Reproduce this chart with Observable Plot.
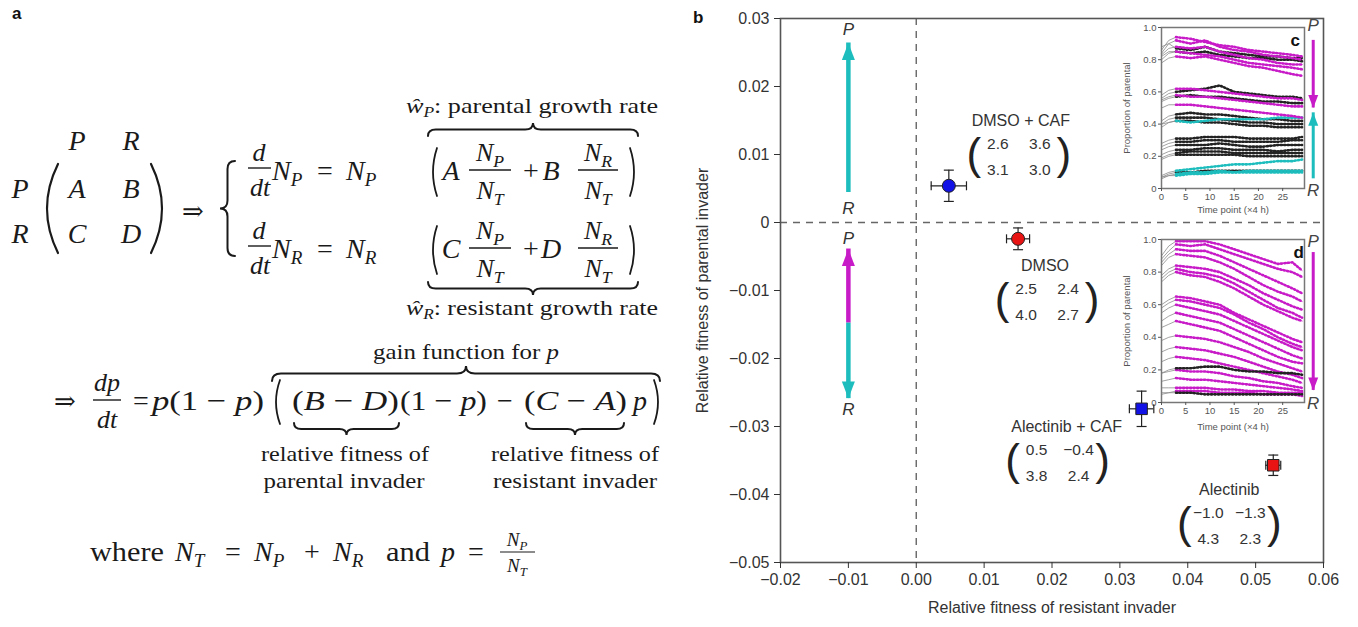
<!DOCTYPE html>
<html><head><meta charset="utf-8">
<script src="https://cdn.jsdelivr.net/npm/d3@7"></script>
<script src="https://cdn.jsdelivr.net/npm/@observablehq/plot@0.6"></script>
<style>
body{margin:0;background:#fff;}
#root{position:relative;width:1358px;height:627px;overflow:hidden;background:#fff;font-family:"Liberation Sans",Arial,sans-serif;}
</style></head><body><div id="root"></div>
<script>
// ---------------- DATA ----------------
const treatments = ["DMSO + CAF", "DMSO", "Alectinib + CAF", "Alectinib"];
const resistantFitness = [0.0048, 0.0150, 0.0332, 0.0526];
const resistantErr = [0.0026, 0.0017, 0.0018, 0.0011];
const parentalFitness = [0.0054, -0.0024, -0.0274, -0.0357];
const parentalErr = [0.0023, 0.0016, 0.0026, 0.0015];
const withCAF = [true, false, true, false];
const withAlectinib = [false, false, true, true];
const gameMatrices = [["2.6","3.6","3.1","3.0"],["2.5","2.4","4.0","2.7"],["0.5","−0.4","3.8","2.4"],["−1.0","−1.3","4.3","2.3"]];
const xTicks = [-0.02, -0.01, 0, 0.01, 0.02, 0.03, 0.04, 0.05, 0.06];
const yTicks = [-0.05, -0.04, -0.03, -0.02, -0.01, 0, 0.01, 0.02, 0.03];
const xLabel = "Relative fitness of resistant invader";
const yLabel = "Relative fitness of parental invader";
// direction arrows (x = -0.01)
const arrowX = -0.01;
const upperArrow = {from: 0.0044, to: 0.0264};
const lowerArrow = {mid: -0.0148, up: -0.0039, down: -0.0259};

// inset time points (x4 h)
const TIMES = [0, 1.5, 3, 6, 9, 12, 15, 18, 21, 24, 27, 29];
const insetTicksX = [0, 5, 10, 15, 20, 25];
const insetTicksY = [0, 0.2, 0.4, 0.6, 0.8, 1.0];
// inset c (DMSO + CAF)
const cMagenta = [
 [0.86,0.92,0.94,0.93,0.91,0.89,0.88,0.86,0.85,0.84,0.83,0.82],
 [0.84,0.90,0.92,0.90,0.92,0.88,0.86,0.85,0.83,0.82,0.81,0.80],
 [0.83,0.87,0.88,0.87,0.88,0.85,0.83,0.81,0.80,0.78,0.77,0.77],
 [0.80,0.84,0.85,0.84,0.83,0.82,0.80,0.78,0.77,0.76,0.75,0.74],
 [0.78,0.81,0.82,0.81,0.82,0.80,0.78,0.76,0.75,0.73,0.71,0.70],
 [0.58,0.61,0.62,0.62,0.61,0.60,0.59,0.58,0.57,0.56,0.56,0.55],
 [0.55,0.57,0.58,0.57,0.57,0.56,0.55,0.54,0.53,0.52,0.51,0.51],
 [0.50,0.52,0.52,0.52,0.51,0.50,0.49,0.48,0.47,0.46,0.45,0.44]
];
const cBlack = [
 [0.88,0.90,0.87,0.86,0.88,0.85,0.84,0.83,0.82,0.82,0.81,0.81],
 [0.82,0.85,0.85,0.84,0.85,0.83,0.82,0.81,0.81,0.80,0.80,0.79],
 [0.56,0.59,0.60,0.61,0.62,0.64,0.60,0.59,0.58,0.57,0.57,0.56],
 [0.54,0.56,0.57,0.58,0.57,0.57,0.56,0.55,0.54,0.54,0.53,0.53],
 [0.42,0.45,0.46,0.47,0.46,0.46,0.45,0.44,0.43,0.43,0.42,0.42],
 [0.40,0.43,0.44,0.44,0.44,0.43,0.42,0.41,0.41,0.40,0.40,0.40],
 [0.38,0.41,0.42,0.42,0.41,0.41,0.40,0.39,0.39,0.38,0.38,0.38],
 [0.28,0.30,0.31,0.31,0.32,0.32,0.32,0.31,0.31,0.31,0.31,0.32],
 [0.26,0.28,0.29,0.29,0.30,0.30,0.29,0.29,0.29,0.29,0.30,0.30],
 [0.24,0.26,0.27,0.27,0.27,0.28,0.27,0.26,0.26,0.27,0.27,0.27],
 [0.21,0.23,0.24,0.24,0.25,0.25,0.24,0.24,0.24,0.23,0.24,0.24],
 [0.19,0.21,0.22,0.23,0.23,0.23,0.22,0.22,0.22,0.22,0.22,0.22],
 [0.18,0.20,0.21,0.21,0.21,0.21,0.21,0.20,0.20,0.20,0.20,0.20],
 [0.07,0.09,0.10,0.10,0.11,0.11,0.11,0.11,0.11,0.11,0.11,0.11]
];
const cTeal = [
 [0.40,0.41,0.42,0.41,0.42,0.43,0.43,0.43,0.43,0.44,0.44,0.44],
 [0.08,0.10,0.11,0.12,0.13,0.14,0.15,0.15,0.16,0.17,0.17,0.18],
 [0.07,0.08,0.09,0.10,0.10,0.11,0.10,0.11,0.11,0.11,0.11,0.11],
 [0.06,0.08,0.08,0.09,0.09,0.10,0.10,0.10,0.10,0.10,0.10,0.10]
];
// inset d (Alectinib)
const dMagenta = [
 [0.90,0.96,0.99,0.99,0.99,0.97,0.94,0.91,0.88,0.85,0.86,0.81],
 [0.88,0.93,0.97,0.96,0.97,0.94,0.91,0.88,0.85,0.82,0.80,0.77],
 [0.86,0.91,0.94,0.93,0.93,0.90,0.86,0.82,0.78,0.74,0.70,0.67],
 [0.84,0.89,0.91,0.90,0.89,0.86,0.82,0.77,0.72,0.68,0.65,0.62],
 [0.78,0.82,0.84,0.83,0.82,0.80,0.76,0.72,0.67,0.63,0.59,0.57],
 [0.76,0.80,0.82,0.80,0.79,0.77,0.73,0.68,0.63,0.58,0.55,0.52],
 [0.74,0.78,0.80,0.78,0.77,0.74,0.70,0.65,0.60,0.56,0.52,0.50],
 [0.60,0.63,0.65,0.64,0.62,0.60,0.55,0.51,0.47,0.43,0.39,0.37],
 [0.58,0.61,0.63,0.62,0.60,0.58,0.54,0.49,0.45,0.40,0.36,0.34],
 [0.55,0.58,0.60,0.58,0.56,0.54,0.50,0.46,0.42,0.38,0.34,0.32],
 [0.50,0.53,0.55,0.53,0.51,0.49,0.45,0.41,0.37,0.33,0.29,0.27],
 [0.46,0.48,0.50,0.48,0.46,0.44,0.40,0.36,0.32,0.28,0.25,0.24],
 [0.38,0.40,0.41,0.40,0.39,0.37,0.34,0.31,0.27,0.24,0.21,0.19],
 [0.31,0.33,0.34,0.33,0.32,0.30,0.28,0.25,0.22,0.19,0.17,0.15],
 [0.25,0.27,0.28,0.27,0.26,0.24,0.22,0.20,0.18,0.16,0.14,0.12],
 [0.18,0.19,0.20,0.19,0.19,0.18,0.16,0.15,0.13,0.12,0.10,0.09],
 [0.13,0.14,0.15,0.14,0.14,0.13,0.12,0.11,0.10,0.09,0.08,0.07],
 [0.09,0.09,0.09,0.09,0.09,0.08,0.08,0.07,0.07,0.06,0.06,0.06],
 [0.06,0.06,0.07,0.07,0.07,0.06,0.06,0.06,0.05,0.05,0.05,0.04]
];
const dBlack = [
 [0.18,0.20,0.21,0.21,0.22,0.22,0.20,0.19,0.19,0.18,0.18,0.17],
 [0.05,0.06,0.06,0.06,0.05,0.05,0.05,0.05,0.05,0.05,0.05,0.05]
];

// ---------------- STYLE ----------------
const MAGENTA = "#c81bc8", TEAL = "#1dbdbd", BLUE = "#1212e6", RED = "#e81414";
const root = document.getElementById("root");
function place(el, left, top){ el.style.position="absolute"; el.style.left=left+"px"; el.style.top=top+"px"; root.appendChild(el); return el; }
function panelLetter(s, left, top){ const d=document.createElement("div"); d.textContent=s; d.style.font="bold 17px 'Liberation Sans',Arial,sans-serif"; d.style.color="#111"; place(d,left,top); }

// ---------------- PANEL A (equations) ----------------
const svgA = d3.create("svg").attr("width",680).attr("height",627)
  .style("font-family","'Liberation Serif','DejaVu Serif',serif").attr("fill","#1a1a1a");
function T(x,y,s,o={}){ const t=svgA.append("text").attr("x",x).attr("y",y).attr("font-size",o.size||28).attr("text-anchor",o.a||"middle");
  if(Array.isArray(s)){ for(const [str,it,extra] of s){ const sp=t.append("tspan").text(str); if(it) sp.attr("font-style","italic"); if(extra){ for(const k in extra) sp.attr(k,extra[k]); } } } else t.text(s);
  if(o.it) t.attr("font-style","italic"); if(o.len) t.attr("textLength",o.len).attr("lengthAdjust","spacingAndGlyphs"); return t; }
function NS(x,y,sub,o={}){ const size=o.size||28; const t=svgA.append("text").attr("x",x).attr("y",y).attr("font-size",size).attr("font-style","italic").attr("text-anchor",o.a||"start");
  t.append("tspan").text("N"); t.append("tspan").attr("font-size",size*0.68).attr("dy",size*0.22).text(sub); return t; }
function L(x1,x2,y,w=1.4){ svgA.append("line").attr("x1",x1).attr("x2",x2).attr("y1",y).attr("y2",y).attr("stroke","#1a1a1a").attr("stroke-width",w); }
function P(d,w=1.8){ svgA.append("path").attr("d",d).attr("fill","none").attr("stroke","#1a1a1a").attr("stroke-width",w).attr("stroke-linecap","round"); }
function hBrace(x1,x2,yTip,h,up){ const s=up?1:-1, yE=yTip+s*h, yM=yTip+s*h/2, m=(x1+x2)/2, r=Math.min(h*0.6,9);
  P(`M${x1},${yE} Q${x1},${yM} ${x1+r},${yM} L${m-r},${yM} Q${m},${yM} ${m},${yTip} Q${m},${yM} ${m+r},${yM} L${x2-r},${yM} Q${x2},${yM} ${x2},${yE}`,2); }
function vBrace(xTip,y1,y2,w){ const xE=xTip+w, xM=xTip+w/2, m=(y1+y2)/2, r=8;
  P(`M${xE},${y1} Q${xM},${y1} ${xM},${y1+r} L${xM},${m-r} Q${xM},${m} ${xTip},${m} Q${xM},${m} ${xM},${m+r} L${xM},${y2-r} Q${xM},${y2} ${xE},${y2}`,2); }
function bigParen(x,y1,y2,left){ const k=left?-8:8; P(`M${x},${y1} Q${x+k},${(y1+y2)/2} ${x},${y2}`,1.8); }

// matrix
T(77,150,"P",{it:1}); T(131,150,"R",{it:1});
T(20,198,"P",{it:1}); T(20,243,"R",{it:1});
T(77,198,"A",{it:1}); T(131,198,"B",{it:1}); T(77,243,"C",{it:1}); T(131,243,"D",{it:1});
P("M58,164 Q36,208.5 58,253",2.2); P("M151,164 Q173,208.5 151,253",2.2);
T(193,220,"⇒",{size:26});
vBrace(220,161,256,15);
for(const r of [0,1]){
  const o=r*78, sub=r?"R":"P";
  T(259,161+o,"d",{it:1,size:26}); L(248,271,168+o); T(260,196+o,"dt",{it:1,size:26});
  NS(272,180+o,sub); T(325,180+o,"="); NS(346,180+o,sub);
  bigParen(437,148+o,196+o,true);
  T(451,180+o,r?"C":"A",{it:1});
  NS(490,161+o,"P",{a:"middle",size:26}); L(469,511,170+o); NS(490,199+o,"T",{a:"middle",size:26});
  T(531,180+o,"+");
  T(551,180+o,r?"D":"B",{it:1});
  NS(598,161+o,"R",{a:"middle",size:26}); L(578,618,170+o); NS(598,199+o,"T",{a:"middle",size:26});
  bigParen(630,148+o,196+o,false);
}
hBrace(428,638,123,13,true);
T(406,113,[["ŵ",1],["P",1,{"font-size":14,"dy":4}],[": parental growth rate",0,{"dy":-4}]],{size:21,a:"start",len:252});
hBrace(428,638,295,13,false);
T(406,315,[["ŵ",1],["R",1,{"font-size":14,"dy":4}],[": resistant growth rate",0,{"dy":-4}]],{size:21,a:"start",len:252});
// gain function
T(373,359,[["gain function for ",0],["p",1]],{size:21,a:"start",len:186});
hBrace(272,660,366,15,true);
T(65,410,"⇒",{size:26});
T(107,391,"dp",{it:1,size:26}); L(93,121,400); T(107,428,"dt",{it:1,size:26});
T(141,410,"=");
T(152,410,[["p",1],["(1 − ",0],["p",1],[")",0]],{a:"start",len:112});
bigParen(280,380,424,true);
T(292,410,[["(",0],["B",1],[" − ",0],["D",1],[")",0]],{a:"start",len:107});
T(400,410,[["(1 − ",0],["p",1],[")",0]],{a:"start",len:87});
T(505,410,"−");
T(524,410,[["(",0],["C",1],[" − ",0],["A",1],[")",0]],{a:"start",len:103});
T(640,410,"p",{it:1});
bigParen(654,380,424,false);
hBrace(294,399,435,12,false);
hBrace(526,624,435,12,false);
T(345,461,"relative fitness of",{size:21,len:168});
T(344,488,"parental invader",{size:21,len:161});
T(575,461,"relative fitness of",{size:21,len:168});
T(575,488,"resistant invader",{size:21,len:164});
// where line
T(90,561,"where",{a:"start",len:74});
NS(175,561,"T"); T(233,561,"="); NS(254,561,"P"); T(312,561,"+"); NS(333,561,"R");
T(386,561,"and",{a:"start",len:44}); T(448,561,"p",{it:1}); T(476,561,"=");
NS(517,546,"P",{a:"middle",size:19}); L(500,535,552,1.1); NS(517,572,"T",{a:"middle",size:19});
place(svgA.node(),0,0);
panelLetter("a",12,4);

// ---------------- INSETS ----------------
const headUp = (w,h)=>({draw(ctx){ctx.moveTo(0,0);ctx.lineTo(-w,h);ctx.lineTo(w,h);ctx.closePath();}});
const headDown = (w,h)=>({draw(ctx){ctx.moveTo(0,0);ctx.lineTo(-w,-h);ctx.lineTo(w,-h);ctx.closePath();}});
function seriesRows(groups){ const rows=[]; groups.forEach(([arr,color,name])=>arr.forEach((vals,k)=>vals.forEach((v,j)=>rows.push({id:name+k,t:TIMES[j],v,color,j})))); return rows; }
const insetFmt = d => d===0 ? "0" : d.toFixed(1);
function inset(groups, letter, arrows, pr){
  const rows = seriesRows(groups);
  const gray = rows.filter(d=>d.j<=2), col = rows.filter(d=>d.j>=2);
  const axisOpts = {tickSize:3, tickPadding:2, fontSize:9.5, color:"#555"};
  return Plot.plot({
    width:215, height:pr.height, marginLeft:51, marginRight:21, marginTop:9, marginBottom:pr.mb,
    x:{domain:[0,29.5]}, y:{domain:[0,1]}, color:{type:"identity"},
    style:{fontFamily:"'Liberation Sans',Arial,sans-serif", fontSize:"9.5px", color:"#555", background:"transparent", overflow:"visible"},
    marks:[
      Plot.frame({fill:"white", stroke:"none"}),
      Plot.line(gray,{x:"t",y:"v",z:"id",stroke:"#8a8a8a",strokeWidth:0.8}),
      Plot.line(col,{x:"t",y:"v",z:"id",stroke:"color",strokeWidth:1}),
      Plot.line(col,{x:"t",y:"v",z:"id",stroke:"color",strokeWidth:2.6,strokeDasharray:"1.2,2.3"}),
      Plot.frame({stroke:"#777",strokeWidth:1.5}),
      Plot.axisX({...axisOpts, ticks:insetTicksX, label:"Time point (×4 h)", labelAnchor:"center", labelOffset:pr.xlo, labelArrow:"none"}),
      Plot.axisY({...axisOpts, ticks:insetTicksY, tickFormat:insetFmt, label:"Proportion of parental", labelAnchor:"center", labelOffset:38, labelArrow:"none"}),
      ...arrows.flatMap(a=>[
        Plot.ruleX([a],{x:"x",y1:"from",y2:"to",stroke:a.color,strokeWidth:3}),
        Plot.dot([a],{x:"x",y:"to",symbol:a.to>a.from?headUp(5,13):headDown(5,13),fill:a.color,stroke:"none",r:4})
      ]),
      Plot.text([pr.labelX],{x:d=>d,y:pr.pY,text:()=>"P",fontStyle:"italic",fontSize:17,fill:"#444"}),
      Plot.text([pr.labelX],{x:d=>d,y:pr.rY,text:()=>"R",fontStyle:"italic",fontSize:17,fill:"#444"}),
      Plot.text([letter],{x:pr.lx,y:0.92,text:d=>d,fontWeight:"bold",fontSize:17,fill:"#111"})
    ]
  });
}
const insetC = inset([[cBlack,"#222","k"],[cTeal,TEAL,"t"],[cMagenta,MAGENTA,"m"]], "c",
  [{x:31.3,from:0.92,to:0.50,color:MAGENTA},{x:31.3,from:0.06,to:0.47,color:TEAL}],
  {height:204, mb:34, xlo:24, labelX:31.3, pY:1.01, rY:-0.015, lx:27.6});
place(insetC,1110,18);
const insetD = inset([[dMagenta,MAGENTA,"m"],[dBlack,"#222","k"]], "d",
  [{x:31.3,from:0.92,to:0.074,color:MAGENTA}],
  {height:210, mb:38, xlo:27, labelX:31.3, pY:0.99, rY:-0.008, lx:28.3});
place(insetD,1110,230);

// ---------------- PANEL B (main) ----------------
const pts = treatments.map((name,i)=>({name, x:resistantFitness[i], y:parentalFitness[i], ex:resistantErr[i], ey:parentalErr[i], fill: withCAF[i]?BLUE:RED, square: withAlectinib[i], m: gameMatrices[i]}));
const vCap = {draw(ctx){ctx.moveTo(0,-4.5);ctx.lineTo(0,4.5);}};
const hCap = {draw(ctx){ctx.moveTo(-5,0);ctx.lineTo(5,0);}};
// label offsets (px) relative to each point: name centre, matrix centre shift
const labelLayout = [{dx:72,dy:-65,mdx:-2},{dx:27,dy:27,mdx:2},{dx:-75,dy:18,mdx:-9},{dx:-44,dy:25,mdx:0}];
const annotMarks = pts.flatMap((p,i)=>{
  const o=labelLayout[i], d=[p], base={x:"x",y:"y",fill:"#333",fontSize:16};
  const cx=o.dx+o.mdx;
  return [
    Plot.text(d,{...base,text:q=>q.name,dx:o.dx,dy:o.dy}),
    Plot.text(d,{...base,fontSize:15.5,text:q=>q.m[0],dx:cx-21,dy:o.dy+23}),
    Plot.text(d,{...base,fontSize:15.5,text:q=>q.m[1],dx:cx+21,dy:o.dy+23}),
    Plot.text(d,{...base,fontSize:15.5,text:q=>q.m[2],dx:cx-21,dy:o.dy+49}),
    Plot.text(d,{...base,fontSize:15.5,text:q=>q.m[3],dx:cx+21,dy:o.dy+49}),
    Plot.text(d,{...base,text:()=>"(",fontSize:44,fill:"#222",dx:cx-45,dy:o.dy+34}),
    Plot.text(d,{...base,text:()=>")",fontSize:44,fill:"#222",dx:cx+45,dy:o.dy+34})
  ];
});
const fmtX = d3.format(".2f");
const fmtY = d => d===0 ? "0" : d3.format(".2f")(d);
const main = Plot.plot({
  width:668, height:627, marginLeft:90, marginRight:35, marginTop:18, marginBottom:65,
  x:{domain:[-0.02,0.06]}, y:{domain:[-0.05,0.03]}, color:{type:"identity"},
  style:{fontFamily:"'Liberation Sans',Arial,sans-serif", fontSize:"16px", color:"#333", background:"transparent", overflow:"visible"},
  marks:[
    Plot.ruleX([0],{stroke:"#666",strokeWidth:1.4,strokeDasharray:"7,6"}),
    Plot.ruleY([0],{stroke:"#666",strokeWidth:1.4,strokeDasharray:"7,6"}),
    Plot.frame({stroke:"#555",strokeWidth:1.6}),
    Plot.axisX({ticks:xTicks,tickFormat:fmtX,tickSize:6,tickPadding:5,fontSize:16,color:"#333",label:xLabel,labelAnchor:"center",labelOffset:50,labelArrow:"none"}),
    Plot.axisY({ticks:yTicks,tickFormat:fmtY,tickSize:6,tickPadding:5,fontSize:16,color:"#333",label:yLabel,labelAnchor:"center",labelOffset:84,labelArrow:"none"}),
    // direction arrows
    Plot.ruleX([upperArrow],{x:arrowX,y1:"from",y2:"to",stroke:TEAL,strokeWidth:4.5}),
    Plot.dot([upperArrow],{x:arrowX,y:"to",symbol:headUp(6.5,17),fill:TEAL,stroke:"none",r:5}),
    Plot.ruleX([lowerArrow],{x:arrowX,y1:"mid",y2:"up",stroke:MAGENTA,strokeWidth:4.5}),
    Plot.dot([lowerArrow],{x:arrowX,y:"up",symbol:headUp(6.5,17),fill:MAGENTA,stroke:"none",r:5}),
    Plot.ruleX([lowerArrow],{x:arrowX,y1:"mid",y2:"down",stroke:TEAL,strokeWidth:4.5}),
    Plot.dot([lowerArrow],{x:arrowX,y:"down",symbol:headDown(6.5,17),fill:TEAL,stroke:"none",r:5}),
    Plot.text([upperArrow],{x:arrowX,y:"to",text:()=>"P",dy:-13,fontStyle:"italic",fontSize:17,fill:"#333"}),
    Plot.text([upperArrow],{x:arrowX,y:"from",text:()=>"R",dy:16,fontStyle:"italic",fontSize:17,fill:"#333"}),
    Plot.text([lowerArrow],{x:arrowX,y:"up",text:()=>"P",dy:-10,fontStyle:"italic",fontSize:17,fill:"#333"}),
    Plot.text([lowerArrow],{x:arrowX,y:"down",text:()=>"R",dy:11,fontStyle:"italic",fontSize:17,fill:"#333"}),
    // error bars
    Plot.ruleY(pts,{y:"y",x1:d=>d.x-d.ex,x2:d=>d.x+d.ex,stroke:"#222",strokeWidth:1.2}),
    Plot.ruleX(pts,{x:"x",y1:d=>d.y-d.ey,y2:d=>d.y+d.ey,stroke:"#222",strokeWidth:1.2}),
    Plot.dot(pts,{x:d=>d.x-d.ex,y:"y",symbol:vCap,stroke:"#222",fill:"none",strokeWidth:1.2}),
    Plot.dot(pts,{x:d=>d.x+d.ex,y:"y",symbol:vCap,stroke:"#222",fill:"none",strokeWidth:1.2}),
    Plot.dot(pts,{x:"x",y:d=>d.y-d.ey,symbol:hCap,stroke:"#222",fill:"none",strokeWidth:1.2}),
    Plot.dot(pts,{x:"x",y:d=>d.y+d.ey,symbol:hCap,stroke:"#222",fill:"none",strokeWidth:1.2}),
    Plot.dot(pts.filter(d=>!d.square),{x:"x",y:"y",r:6.5,symbol:"circle",fill:"fill",stroke:"#222",strokeWidth:1}),
    Plot.dot(pts.filter(d=>d.square),{x:"x",y:"y",r:6.5,symbol:"square",fill:"fill",stroke:"#222",strokeWidth:1}),
    ...annotMarks
  ]
});
place(main,690,0);
panelLetter("b",693,8);
</script></body></html>
